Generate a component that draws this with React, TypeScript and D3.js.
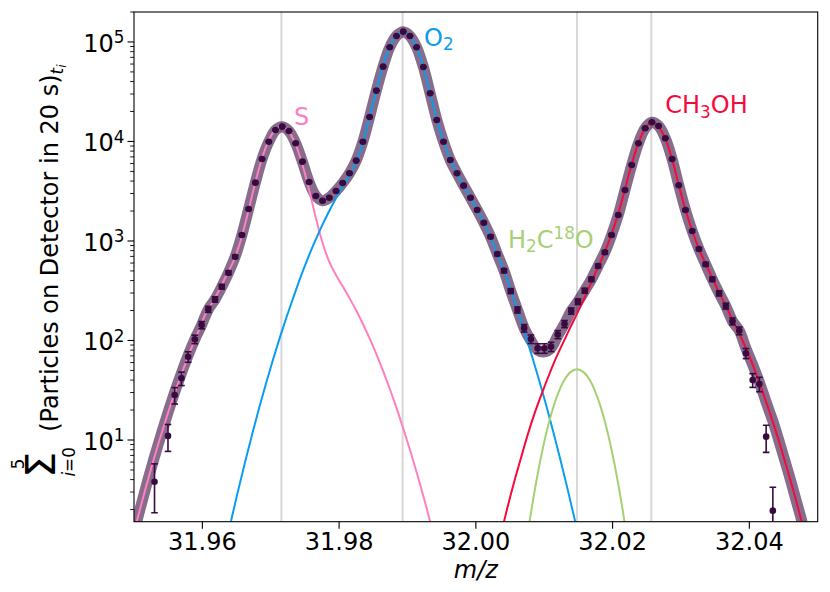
import * as d3 from "d3";

const width = 830;
const height = 592;
const margin = { top: 12, right: 12.3, bottom: 70.3, left: 134 };

// measured spectrum (summed over the 6 time windows)
const dataMz = [31.953, 31.95497, 31.95595, 31.95694, 31.95792, 31.9589, 31.95989, 31.96087, 31.96185, 31.96284, 31.96382, 31.9648, 31.96578, 31.96677, 31.96775, 31.96873, 31.96972, 31.9707, 31.97168, 31.97266, 31.97365, 31.97463, 31.97561, 31.9766, 31.97758, 31.97856, 31.97955, 31.98053, 31.98151, 31.98249, 31.98348, 31.98446, 31.98544, 31.98643, 31.98741, 31.98839, 31.98938, 31.99036, 31.99134, 31.99232, 31.99331, 31.99429, 31.99527, 31.99626, 31.99724, 31.99822, 31.99921, 32.00019, 32.00117, 32.00215, 32.00314, 32.00412, 32.0051, 32.00609, 32.00707, 32.00805, 32.00904, 32.01002, 32.011, 32.01198, 32.01297, 32.01395, 32.01493, 32.01592, 32.0169, 32.01788, 32.01887, 32.01985, 32.02083, 32.02181, 32.0228, 32.02378, 32.02476, 32.02575, 32.02673, 32.02771, 32.0287, 32.02968, 32.03066, 32.03164, 32.03263, 32.03361, 32.03459, 32.03558, 32.03656, 32.03754, 32.03853, 32.03951, 32.04049, 32.04147, 32.04246, 32.04344];
const dataCounts = [3.81, 11.0, 28.3, 41.7, 68.7, 103, 143, 206, 259, 347, 480, 695, 1148, 2098, 3855, 6668, 9950, 13050, 14090, 12760, 9590, 6270, 3917, 2833, 2541, 2723, 3183, 3828, 4790, 6412, 9950, 17630, 32400, 56470, 88500, 114900, 126900, 114900, 88500, 56100, 30500, 16450, 9950, 6516, 4790, 3597, 2723, 2049, 1527, 1104, 740, 503, 314, 203, 133, 103.5, 83.5, 83.5, 86.7, 115, 146.6, 198, 245.5, 316.6, 412, 561, 770, 1148, 1825, 3257, 5805, 9590, 13580, 15600, 14310, 10770, 6668, 3630, 2049, 1261, 831, 583, 412, 298, 222, 156, 125.4, 74.4, 40.1, 36.6, 10.8, 1.95];
const dataErr = [1.95, 3.32, 5.32, 6.46, 8.29, 10.1, 12.0, 14.4, 16.1, 18.6, 21.9, 26.4, 33.9, 45.8, 62.1, 81.7, 99.7, 114, 119, 113, 97.9, 79.2, 62.6, 53.2, 50.4, 52.2, 56.4, 61.9, 69.2, 80.1, 99.7, 133, 180, 238, 297, 339, 356, 339, 297, 237, 175, 128, 99.7, 80.7, 69.2, 60.0, 52.2, 45.3, 39.1, 33.2, 27.2, 22.4, 17.7, 14.2, 11.5, 10.2, 9.14, 9.14, 9.31, 10.7, 12.1, 14.1, 15.7, 17.8, 20.3, 23.7, 27.7, 33.9, 42.7, 57.1, 76.2, 97.9, 117, 125, 120, 104, 81.7, 60.2, 45.3, 35.5, 28.8, 24.1, 20.3, 17.3, 14.9, 12.5, 11.2, 8.63, 6.33, 6.05, 3.29, 1.40];

// total fit
const fitMz = [31.95, 31.951, 31.952, 31.953, 31.954, ...dataMz.slice(1), 32.0445, 32.046, 32.0475, 32.049, 32.0505];
const fitCounts = [1.18, 2.17, 3.91, 6.8, 11.5, 18.8, 30.2, 47, 71, 103, 143, 206, 259, 347, 480, 695, 1148, 2098, 3855, 6668, 9950, 13050, 14090, 12760, 9590, 6270, 3917, 2833, 2541, 2723, 3183, 3828, 4790, 6412, 9950, 17630, 32400, 56470, 88500, 114900, 126900, 114900, 88500, 56100, 30500, 16450, 9950, 6516, 4790, 3597, 2723, 2049, 1527, 1104, 740, 503, 314, 203, 133, 100, 80, 77, 84, 112, 146.6, 198, 245.5, 316.6, 412, 561, 770, 1148, 1825, 3257, 5805, 9590, 13580, 15600, 14310, 10770, 6668, 3630, 2049, 1261, 831, 583, 412, 298, 222, 156, 125.4, 83, 57, 38, 24, 15.5, 9, 4.0, 1.7, 0.68, 0.26];

// fit components
const sMz = [31.94954, 31.95054, 31.95154, 31.95254, 31.95354, 31.95454, 31.95554, 31.95654, 31.95754, 31.95854, 31.95954, 31.96054, 31.96154, 31.96254, 31.96354, 31.96454, 31.96554, 31.96654, 31.96754, 31.96854, 31.96954, 31.97054, 31.97154, 31.97254, 31.97354, 31.97454, 31.97554, 31.97654, 31.97754, 31.97854, 31.97954, 31.98054, 31.98154, 31.98254, 31.98354, 31.98454, 31.98554, 31.98654, 31.98754, 31.98854, 31.98954, 31.99054, 31.99154, 31.99254, 31.99354, 31.99454];
const sCounts = [0.89, 1.65, 2.98, 5.29, 9.06, 15.1, 24.5, 38.6, 59.3, 88.9, 129, 190, 245, 330, 455, 624, 975, 1772, 3408, 6154, 9680, 12818, 14090, 12818, 9680, 6154, 3408, 1772, 975, 624, 455, 348, 265, 198, 144, 102, 70.6, 47.3, 30.9, 19.6, 12.1, 7.27, 4.25, 2.41, 1.33, 0.72];

const o2Mz = [31.96335, 31.96435, 31.96535, 31.96635, 31.96735, 31.96835, 31.96935, 31.97035, 31.97135, 31.97235, 31.97335, 31.97435, 31.97535, 31.97635, 31.97735, 31.97835, 31.97935, 31.98035, 31.98135, 31.98235, 31.98335, 31.98435, 31.98535, 31.98635, 31.98735, 31.98835, 31.98935, 31.99035, 31.99135, 31.99235, 31.99335, 31.99435, 31.99535, 31.99635, 31.99735, 31.99835, 31.99935, 32.00035, 32.00135, 32.00235, 32.00335, 32.00435, 32.00535, 32.00635, 32.00735, 32.00835, 32.00935, 32.01035, 32.01135, 32.01235, 32.01335, 32.01435, 32.01535];
const o2Counts = [0.85, 1.71, 3.36, 6.42, 11.9, 21.6, 37.9, 64.9, 108.1, 175, 275.7, 431, 650, 950, 1355, 1880, 2540, 3340, 4335, 5940, 9200, 16480, 30600, 55800, 87500, 115000, 126900, 115000, 88000, 55300, 29800, 16000, 9600, 6350, 4650, 3480, 2630, 1960, 1440, 1010, 680, 455, 290, 180, 108, 64.9, 37.9, 21.6, 11.9, 6.42, 3.36, 1.71, 0.85];

const ch3ohMz = [32.0027, 32.0037, 32.0047, 32.0057, 32.0067, 32.0077, 32.0087, 32.0097, 32.0107, 32.0117, 32.0127, 32.0137, 32.0147, 32.0157, 32.0167, 32.0177, 32.0187, 32.0197, 32.0207, 32.0217, 32.0227, 32.0237, 32.0247, 32.0257, 32.0267, 32.0277, 32.0287, 32.0297, 32.0307, 32.0317, 32.0327, 32.0337, 32.0347, 32.0357, 32.0367, 32.0377, 32.0387, 32.0397, 32.0407, 32.0417, 32.0427, 32.0437, 32.0447, 32.0457, 32.0467, 32.0477, 32.0487];
const ch3ohCounts = [0.6, 1.15, 2.2, 4.0, 7.0, 12, 19.5, 30, 45, 66, 93, 130, 180, 252, 360, 515, 730, 1100, 1760, 3100, 5600, 9350, 13400, 15600, 14100, 10700, 6650, 3600, 2010, 1230, 815, 570, 405, 292, 213, 152, 110, 78, 52.3, 34.1, 21.6, 13.4, 8.03, 4.69, 2.67, 1.47, 0.79];

const h2c18oMz = [32.0068, 32.0078, 32.0088, 32.0098, 32.0108, 32.0118, 32.0128, 32.0138, 32.0148, 32.0158, 32.0168, 32.0178, 32.0188, 32.0198, 32.0208, 32.0218, 32.0228];
const h2c18oCounts = [0.478, 1.43, 3.7, 8.27, 15.97, 26.6, 38.4, 47.8, 51.4, 47.8, 38.4, 26.6, 15.97, 8.27, 3.7, 1.43, 0.478];

const referenceMz = [31.97156, 31.98929, 32.0148, 32.02566];
const xTicks = [31.96, 31.98, 32.0, 32.02, 32.04];
const yTicks = [1e1, 1e2, 1e3, 1e4, 1e5];

const colors = {
  S: "#ff7fbf",
  O2: "#0a9cee",
  CH3OH: "#f50a3c",
  H2C18O: "#a6d073",
  data: "#370a40",
  vline: "#d8d8d8",
};

// label anchor points in data coordinates
const labelPos = {
  S: [31.9734, 14600],
  O2: [31.99242, 91200],
  CH3OH: [32.02771, 19300],
  H2C18O: [32.0047, 851],
};

const font = "DejaVu Sans";

export default function App() {
  const x = d3.scaleLinear().domain([31.95, 32.05]).range([margin.left, width - margin.right]);
  const y = d3.scaleLog().domain([1.51, 2.0e5]).range([height - margin.bottom, margin.top]);

  const line = d3
    .line<[number, number]>()
    .x((d) => x(d[0]))
    .y((d) => y(d[1]))
    .curve(d3.curveCatmullRom.alpha(0.5));
  const path = (mz: number[], c: number[]) => line(mz.map((m, i) => [m, c[i]] as [number, number])) || "";

  const [x0, x1] = x.range();
  const [yb, yt] = y.range();

  const minorTicks: number[] = [];
  for (let e = 0; e <= 5; e++) {
    for (let m = 2; m <= 9; m++) {
      const v = m * Math.pow(10, e);
      if (v >= 1.51 && v <= 2.0e5) minorTicks.push(v);
    }
  }

  const subFs = 16.8;

  return (
    <svg width={width} height={height} style={{ position: "absolute", left: 0, top: 0, background: "#fff" }} fontFamily={font}>
      <defs>
        <clipPath id="plot">
          <rect x={x0} y={yt} width={x1 - x0} height={yb - yt} />
        </clipPath>
      </defs>
      <rect x={0} y={0} width={width} height={height} fill="#fff" />

      <g clipPath="url(#plot)">
        {referenceMz.map((m) => (
          <line key={m} x1={x(m)} x2={x(m)} y1={yt} y2={yb} stroke={colors.vline} strokeWidth={2} />
        ))}
        <path d={path(fitMz, fitCounts)} fill="none" stroke={colors.data} strokeOpacity={0.6} strokeWidth={11} strokeLinejoin="round" />
        <path d={path(sMz, sCounts)} fill="none" stroke={colors.S} strokeWidth={2} />
        <path d={path(o2Mz, o2Counts)} fill="none" stroke={colors.O2} strokeWidth={2} />
        <path d={path(ch3ohMz, ch3ohCounts)} fill="none" stroke={colors.CH3OH} strokeWidth={2} />
        <path d={path(h2c18oMz, h2c18oCounts)} fill="none" stroke={colors.H2C18O} strokeWidth={2} />
        {dataMz.map((m, i) => {
          const cx = x(m);
          const lo = Math.max(dataCounts[i] - dataErr[i], 0.5);
          const hi = dataCounts[i] + dataErr[i];
          return (
            <g key={i} stroke={colors.data} strokeWidth={1.6}>
              <line x1={cx} x2={cx} y1={y(lo)} y2={y(hi)} />
              <line x1={cx - 3.3} x2={cx + 3.3} y1={y(lo)} y2={y(lo)} />
              <line x1={cx - 3.3} x2={cx + 3.3} y1={y(hi)} y2={y(hi)} />
              <circle cx={cx} cy={y(dataCounts[i])} r={3.3} fill={colors.data} stroke="none" />
            </g>
          );
        })}
      </g>

      {/* component labels */}
      <text x={x(labelPos.S[0])} y={y(labelPos.S[1])} fontSize={24} fill={colors.S}>S</text>
      <text x={x(labelPos.O2[0])} y={y(labelPos.O2[1])} fontSize={24} fill={colors.O2}>
        O<tspan fontSize={subFs} dy={4.5}>2</tspan>
      </text>
      <text x={x(labelPos.CH3OH[0])} y={y(labelPos.CH3OH[1])} fontSize={24} fill={colors.CH3OH}>
        CH<tspan fontSize={subFs} dy={4.5}>3</tspan>
        <tspan dy={-4.5}>OH</tspan>
      </text>
      <text x={x(labelPos.H2C18O[0])} y={y(labelPos.H2C18O[1])} fontSize={24} fill={colors.H2C18O}>
        H<tspan fontSize={subFs} dy={4.5}>2</tspan>
        <tspan dy={-4.5}>C</tspan>
        <tspan fontSize={subFs} dy={-8.5}>18</tspan>
        <tspan dy={8.5}>O</tspan>
      </text>

      {/* axes frame */}
      <rect x={x0} y={yt} width={x1 - x0} height={yb - yt} fill="none" stroke="#000" strokeWidth={1.1} />

      {/* x axis */}
      {xTicks.map((t) => (
        <g key={t}>
          <line x1={x(t)} x2={x(t)} y1={yb} y2={yb + 7} stroke="#000" strokeWidth={1.1} />
          <text x={x(t)} y={yb + 28.5} fontSize={24} textAnchor="middle" fill="#000">
            {d3.format(".2f")(t)}
          </text>
        </g>
      ))}
      <text x={(x0 + x1) / 2} y={578} fontSize={24} textAnchor="middle" fontStyle="italic" fill="#000">
        m/z
      </text>

      {/* y axis */}
      {minorTicks.map((t) => (
        <line key={t} x1={x0 - 3.8} x2={x0} y1={y(t)} y2={y(t)} stroke="#000" strokeWidth={0.9} />
      ))}
      {yTicks.map((t) => (
        <g key={t}>
          <line x1={x0 - 6.5} x2={x0} y1={y(t)} y2={y(t)} stroke="#000" strokeWidth={1.1} />
          <text x={124.5} y={y(t) + 9.7} fontSize={24} textAnchor="end" fill="#000">
            10<tspan fontSize={subFs} dy={-8.5}>{Math.round(Math.log10(t))}</tspan>
          </text>
        </g>
      ))}

      {/* y label */}
      <g transform={`translate(57.5, ${(yt + yb) / 2}) rotate(-90)`} fill="#000">
        <text x={-211} y={-2.5} fontSize={41}>Σ</text>
        <text x={-197} y={-34} fontSize={subFs} textAnchor="middle">5</text>
        <text x={-195} y={17} fontSize={subFs} textAnchor="middle">
          <tspan fontStyle="italic">i</tspan>=0
        </text>
        <text x={-165} y={0} fontSize={24}>
          (Particles on Detector in 20 s)
          <tspan fontSize={subFs} fontStyle="italic" dy={5}>t</tspan>
          <tspan fontSize={12} fontStyle="italic" dy={3}>i</tspan>
        </text>
      </g>
    </svg>
  );
}
